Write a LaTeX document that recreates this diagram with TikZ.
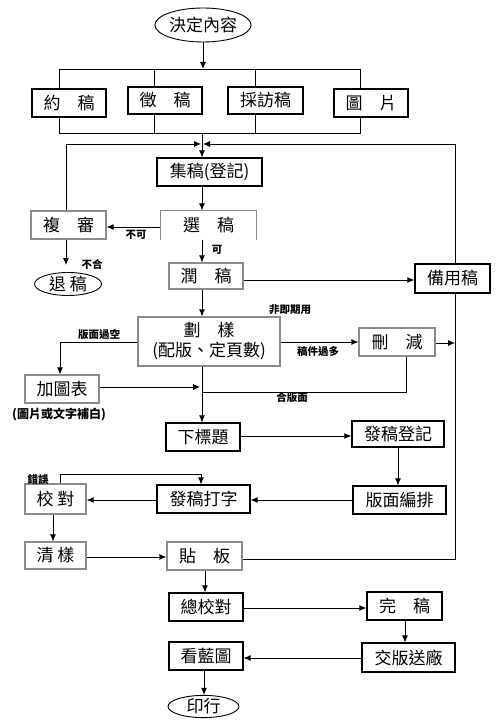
\documentclass[tikz,border=0pt]{standalone}
\usepackage{fontspec}
\newfontfamily\cjk{Noto Sans CJK TC}
\usetikzlibrary{arrows.meta,shapes.geometric}
\tikzset{
  bx/.style={draw=black,line width=1.2pt,inner sep=0pt,align=center,font=\cjk\fontsize{17}{20}\selectfont},
  gbx/.style={bx,draw=black!45},
  ell/.style={ellipse,draw=black,line width=0.9pt,inner sep=0pt,font=\cjk\fontsize{17}{20}\selectfont},
  lab/.style={font=\cjk\bfseries\fontsize{10.5}{12}\selectfont,inner sep=0pt},
  ln/.style={line width=0.9pt,draw=black},
  ar/.style={ln,-{Latex[length=7pt,width=6pt]}},
  sz/.style 2 args={minimum width=#1pt,minimum height=#2pt}
}
\begin{document}
\begin{tikzpicture}[x=1pt,y=-1pt]
\useasboundingbox[fill=white] (0,0) rectangle (500,727);
% nodes
\node[ell,sz={86}{34}] (start) at (203,25) {決定內容};
\node[bx,sz={74}{28}] (yue) at (69,103) {約　稿};
\node[bx,sz={74}{27}] (zheng) at (165,100.5) {徵　稿};
\node[bx,sz={75}{27}] (cai) at (265.5,100.5) {採訪稿};
\node[bx,sz={74}{28}] (tu) at (371,103) {圖　片};
\node[bx,sz={105}{28}] (ji) at (209.5,172) {集稿(登記)};
\node[bx,draw=none,sz={95}{28}] (xuan) at (208.5,225) {選　稿};
\draw[draw=black!45,line width=1.1pt] (xuan.south west) -- (xuan.north west) -- (xuan.north east) -- (xuan.south east);
\node[gbx,sz={75}{28}] (fu) at (68.5,225) {複　審};
\node[ell,sz={67}{23}] (tui) at (68,284) {退 稿};
\node[gbx,sz={74}{26}] (run) at (206,276) {潤　稿};
\node[bx,sz={75}{29}] (bei) at (452.5,278.5) {備用稿};
\node[gbx,sz={142}{49}] (hua) at (209,341.5) {劃　樣\\(配版、定頁數)};
\node[gbx,sz={76}{28}] (shan) at (397,342) {刪　減};
\node[gbx,sz={74}{28}] (jia) at (62,389) {加圖表};
\node[bx,sz={74}{28}] (xia) at (203,437) {下標題};
\node[bx,sz={92}{26}] (fa) at (398,434) {發稿登記};
\node[bx,sz={93}{28}] (ban) at (399.5,500) {版面編排};
\node[bx,sz={93}{28}] (da) at (203.5,499) {發稿打字};
\node[gbx,sz={61}{30}] (jiao) at (55.5,499) {校 對};
\node[gbx,sz={61}{27}] (qing) at (55.5,555.5) {清 樣};
\node[gbx,sz={75}{28}] (tie) at (204.5,556) {貼　板};
\node[bx,sz={74}{28}] (zong) at (206,607) {總校對};
\node[bx,sz={75}{28}] (wan) at (404.5,606) {完　稿};
\node[bx,sz={93}{29}] (jb) at (408.5,657.5) {交版送廠};
\node[bx,sz={74}{28}] (kan) at (206,656) {看藍圖};
\node[ell,sz={71}{22}] (yin) at (203.5,706.5) {印行};
% labels
\node[lab] (l1) at (136,235) {不可};
\node[lab] (l2) at (92,264) {不合};
\node[lab] (l3) at (217,250) {可};
\node[lab] (l4) at (290,310) {非即期用};
\node[lab] (l5) at (318,351) {稿件過多};
\node[lab] (l6) at (99,335) {版面過空};
\node[lab] (l7) at (292,398) {合版面};
\node[lab,font=\cjk\bfseries\fontsize{12}{14}\selectfont] (l8) at (59,415) {(圖片或文字補白)};
\node[lab] (l9) at (38,479) {錯誤};
% coordinates
\coordinate (b1) at (203,69);
\coordinate (b2) at (203,133);
\coordinate (b3) at (203,144);
\coordinate (m1) at (202,392);
\coordinate (r1) at (455,559);
% connectors top
\draw[ar] (start) -- (b1);
\draw[ln] (59,69) -- (360,69);
\draw[ln] (b1 -| 59,0) -- (yue.north -| 59,0);
\draw[ln] (b1 -| 154,0) -- (zheng.north -| 154,0);
\draw[ln] (b1 -| 255,0) -- (cai.north -| 255,0);
\draw[ln] (b1 -| 360,0) -- (tu.north -| 360,0);
\draw[ln] (yue.south -| 59,0) -- (b2 -| 59,0) -- (b2 -| 360,0) -- (tu.south -| 360,0);
\draw[ln] (zheng.south -| 154,0) -- (b2 -| 154,0);
\draw[ln] (cai.south -| 255,0) -- (b2 -| 255,0);
\draw[ar] (b2 -| 202,0) -- (ji.north -| 202,0);
\draw[ar] (fu.north -| 66,0) -- (b3 -| 66,0) -- (b3 -| 201,0);
\draw[ar] (bei.north -| 455,0) -- (b3 -| 455,0) -- (b3 -| 203,0);
% middle
\draw[ar] (ji.south -| 202,0) -- (xuan.north -| 202,0);
\draw[ar] (xuan.west |- 0,227) -- (fu.east |- 0,227);
\draw[ar,shorten >=7pt] (fu.south -| 66,0) -- (tui.north -| 66,0);
\draw[ar] (xuan.south -| 202,0) -- (run.north -| 202,0);
\draw[ar] (run.east |- 0,280) -- (bei.west |- 0,280);
\draw[ar] (run.south -| 202,0) -- (hua.north -| 202,0);
\draw[ar] (hua.east |- 0,342) -- (shan.west |- 0,342);
\draw[ar] (shan.east |- 0,343) -- (r1 |- 0,343);
\draw[ln] (bei.south -| r1) -- (r1) -- (tie.east |- r1);
\draw[ln] (shan.south -| 406,0) -- (406,392) -- (m1);
\draw[ar] (hua.west |- 0,342) -- (60,342) -- (jia.north -| 60,0);
\draw[ar] (jia.east |- 0,387) -- (200,387);
\draw[ar] (hua.south -| 202,0) -- (xia.north -| 202,0);
\draw[ar] (xia.east |- 0,436) -- (fa.west |- 0,436);
\draw[ar] (fa.south -| 398,0) -- (ban.north -| 398,0);
\draw[ar] (ban.west |- 0,500) -- (da.east |- 0,500);
\draw[ar] (da.west |- 0,500) -- (jiao.east |- 0,500);
\draw[ar] (jiao.north -| 60,0) -- (60,474) -- (201,474) -- (da.north -| 201,0);
\draw[ar] (jiao.south -| 53,0) -- (qing.north -| 53,0);
\draw[ar] (qing.east |- 0,557) -- (tie.west |- 0,557);
% bottom
\draw[ar] (tie.south -| 205,0) -- (zong.north -| 205,0);
\draw[ar] (zong.east |- 0,608) -- (wan.west |- 0,608);
\draw[ar] (wan.south -| 405,0) -- (jb.north -| 405,0);
\draw[ar] (jb.west |- 0,658) -- (kan.east |- 0,658);
\draw[ar] (kan.south -| 204,0) -- (yin.north -| 204,0);
\end{tikzpicture}
\end{document}
